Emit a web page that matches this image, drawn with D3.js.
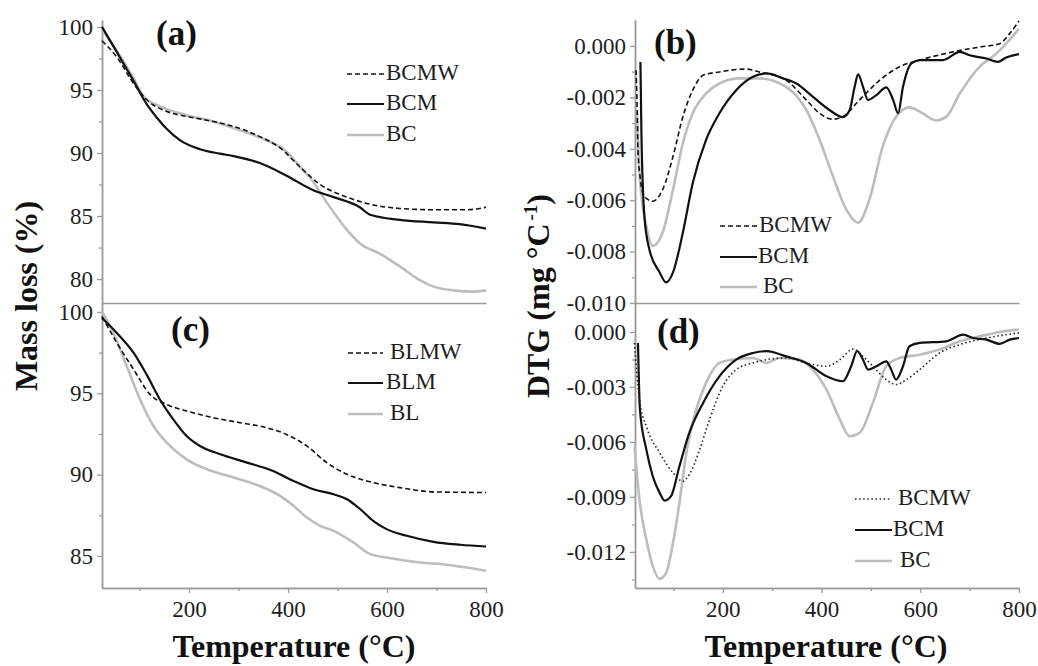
<!DOCTYPE html>
<html>
<head>
<meta charset="utf-8">
<script src="https://cdn.jsdelivr.net/npm/d3@7"></script>
<style>
  html, body { margin: 0; padding: 0; background: #fff; }
  svg { display: block; font-family: "Liberation Serif", "Times New Roman", serif; }
  svg text { font-family: "Liberation Serif", "Times New Roman", serif; }
</style>
</head>
<body>
<svg id="chart" width="1038" height="666"></svg>
<script>
// ---- Axis ticks ----
const tempTicks = [200, 400, 600, 800];
const tempMinorTicks = [100, 300, 500, 700];
const massTicksA = [80, 85, 90, 95, 100];
const massMinorA = [82.5, 87.5, 92.5, 97.5];
const massTicksC = [85, 90, 95, 100];
const massMinorC = [87.5, 92.5, 97.5];
const dtgTicksB = [0, -0.002, -0.004, -0.006, -0.008, -0.010];
const dtgMinorB = [-0.001, -0.003, -0.005, -0.007, -0.009];
const dtgTicksD = [0, -0.003, -0.006, -0.009, -0.012];
const dtgMinorD = [-0.0015, -0.0045, -0.0075, -0.0105, -0.0135];

// ---- Legend labels ----
const legendAB = ["BCMW", "BCM", "BC"];
const legendC = ["BLMW", "BLM", "BL"];

// ---- (a) TGA mass loss, % : [temperature °C, mass %] ----
const massBCMW = [[24,98.9],[54,97.6],[88,95.5],[115,94.2],[155,93.3],[195,92.9],[236,92.6],[290,92.1],[343,91.3],[384,90.4],[424,88.9],[465,87.5],[519,86.5],[559,86.0],[626,85.6],[694,85.5],[761,85.5],[800,85.7]];
const massBCM = [[24,100],[54,98.0],[88,95.7],[114,93.9],[135,92.8],[155,91.9],[182,91.0],[222,90.3],[262,89.95],[290,89.75],[343,89.2],[397,88.2],[451,87.05],[492,86.5],[545,85.7],[566,85.1],[626,84.7],[694,84.5],[747,84.35],[800,84.0]];
const massBC = [[24,99.8],[54,98.1],[88,95.9],[108,94.5],[141,93.7],[195,93.0],[249,92.5],[303,91.8],[357,91.0],[397,90.1],[424,88.9],[451,87.7],[471,86.5],[492,85.3],[519,83.9],[546,82.8],[586,82.0],[626,81.0],[667,79.9],[694,79.4],[734,79.1],[774,79.0],[800,79.1]];

// ---- (c) TGA mass loss, % ----
const massBLMW = [[24,99.73],[54,98.1],[88,96.46],[121,94.93],[155,94.31],[195,93.91],[249,93.5],[303,93.19],[357,92.88],[397,92.47],[438,91.76],[478,90.74],[519,90.02],[559,89.61],[626,89.2],[694,88.94],[800,88.9]];
const massBLM = [[24,99.63],[54,98.71],[88,97.48],[114,96.16],[141,94.62],[168,93.4],[195,92.37],[222,91.76],[263,91.25],[317,90.74],[370,90.22],[411,89.61],[451,89.1],[492,88.79],[519,88.49],[546,87.87],[572,87.16],[599,86.65],[640,86.24],[694,85.87],[748,85.69],[800,85.58]];
const massBL = [[24,100],[47,98.71],[74,96.67],[101,94.62],[128,92.99],[155,91.96],[195,90.94],[236,90.33],[290,89.82],[343,89.3],[384,88.69],[411,88.08],[438,87.36],[465,86.85],[492,86.54],[532,85.83],[566,85.11],[599,84.91],[667,84.6],[721,84.46],[761,84.29],[800,84.09]];

// ---- (b) DTG, mg °C-1 ----
const dtgBCMW_b = [[24,-0.00094],[26,-0.0021],[28,-0.00404],[33,-0.0052],[38,-0.00572],[48,-0.00597],[58,-0.00604],[78,-0.00559],[99,-0.0043],[119,-0.00275],[139,-0.00172],[160,-0.00114],[193,-0.00101],[247,-0.0009],[274,-0.00101],[328,-0.00133],[369,-0.0021],[396,-0.00262],[423,-0.00285],[443,-0.00275],[477,-0.0021],[518,-0.00133],[558,-0.00081],[599,-0.00055],[666,-0.00023],[720,-0.00004],[761,0.00009],[781,0.00048],[800,0.00097]];
const dtgBCM_b = [[33,-0.00062],[35,-0.00339],[41,-0.00662],[51,-0.00791],[72,-0.00881],[85,-0.0092],[99,-0.00881],[119,-0.00726],[139,-0.00533],[166,-0.00365],[193,-0.00262],[227,-0.00172],[261,-0.0012],[288,-0.00107],[322,-0.00126],[349,-0.00146],[382,-0.00197],[416,-0.00249],[443,-0.00277],[457,-0.00249],[467,-0.00159],[474,-0.0011],[484,-0.00159],[494,-0.0021],[511,-0.00191],[531,-0.00161],[545,-0.0021],[555,-0.00262],[565,-0.00159],[582,-0.00068],[599,-0.00055],[646,-0.00055],[680,-0.00023],[700,-0.00036],[734,-0.00049],[757,-0.00062],[774,-0.00045],[800,-0.00032]];
const dtgBC_b = [[26,-0.0025],[32,-0.0052],[45,-0.00701],[58,-0.00778],[78,-0.00726],[99,-0.00559],[119,-0.00378],[139,-0.00262],[166,-0.00185],[193,-0.00146],[234,-0.00126],[274,-0.00126],[328,-0.00159],[369,-0.00249],[396,-0.00365],[423,-0.00507],[450,-0.00636],[474,-0.00688],[497,-0.00597],[524,-0.00391],[551,-0.00275],[578,-0.00239],[605,-0.00262],[632,-0.0029],[653,-0.00275],[680,-0.00185],[720,-0.00081],[754,-0.0003],[774,0.00009],[800,0.00067]];

// ---- (d) DTG, mg °C-1 ----
const dtgBCMW_d = [[21,-0.0006],[31,-0.00369],[45,-0.00515],[72,-0.0066],[99,-0.00769],[119,-0.00815],[132,-0.00778],[153,-0.00642],[173,-0.00478],[200,-0.00296],[227,-0.00205],[261,-0.00169],[288,-0.00151],[328,-0.00142],[369,-0.00169],[410,-0.00187],[437,-0.00151],[464,-0.00093],[484,-0.00133],[504,-0.00187],[531,-0.0026],[551,-0.00287],[572,-0.0026],[599,-0.00205],[639,-0.00115],[680,-0.00069],[734,-0.00033],[800,-0.00005]];
const dtgBCM_d = [[28,-0.0006],[30,-0.00278],[32,-0.00424],[45,-0.00642],[58,-0.00787],[72,-0.00878],[82,-0.0092],[95,-0.00896],[112,-0.00733],[132,-0.00551],[160,-0.00387],[193,-0.00242],[227,-0.00151],[261,-0.00115],[288,-0.00105],[328,-0.00133],[369,-0.00169],[410,-0.00242],[443,-0.00269],[460,-0.00187],[472,-0.00105],[484,-0.00151],[494,-0.00205],[511,-0.00187],[531,-0.0016],[541,-0.00205],[551,-0.0026],[565,-0.00187],[578,-0.00078],[599,-0.0006],[653,-0.00051],[687,-0.00015],[707,-0.00033],[734,-0.00042],[761,-0.00065],[781,-0.00042],[800,-0.00033]];
const dtgBC_d = [[21,-0.00624],[31,-0.00915],[45,-0.01133],[58,-0.01278],[72,-0.01347],[85,-0.01315],[99,-0.01151],[112,-0.00933],[126,-0.0066],[146,-0.00424],[166,-0.00278],[193,-0.00169],[220,-0.00151],[261,-0.00142],[288,-0.00169],[315,-0.00142],[355,-0.00151],[382,-0.00205],[410,-0.00315],[437,-0.00478],[457,-0.00569],[477,-0.00551],[504,-0.00387],[531,-0.00187],[558,-0.00142],[599,-0.00124],[639,-0.00096],[680,-0.00051],[720,-0.00024],[761,0],[800,0.00013]];

// ---- Drawing ----
const FONT = "Liberation Serif, Times New Roman, serif";
const svg = d3.select("#chart");
const AXIS_COLOR = "#9c9c9c";
const TEXT_COLOR = "#1e1e1e";

const styles = {
  dashed: { stroke: "#111", width: 1.6, dash: "5,3" },
  dotted: { stroke: "#222", width: 1.6, dash: "1.5,2.6" },
  black:  { stroke: "#111", width: 2.2, dash: null },
  grey:   { stroke: "#bdbdbd", width: 2.6, dash: null }
};

const fmtInt = d => String(d);
const fmtDtg = d => (Math.abs(d) < 1e-12 ? "0.000" : d.toFixed(3));

function styleAxis(sel) {
  sel.attr("font-family", FONT).attr("font-size", 23);
  sel.select(".domain").attr("stroke", AXIS_COLOR).attr("stroke-width", 1.5);
  sel.selectAll(".tick line").attr("stroke", AXIS_COLOR).attr("stroke-width", 1.3);
  sel.selectAll(".tick text").attr("fill", TEXT_COLOR);
}

function drawPanel(p) {
  const x = d3.scaleLinear().domain(p.xDomain).range([p.left, p.right]);
  const y = d3.scaleLinear().domain(p.yDomain).range([p.bottom, p.top]);
  const g = svg.append("g").attr("font-family", FONT);

  // y axis: minor then major ticks
  g.append("g").attr("transform", `translate(${p.left},0)`)
    .call(d3.axisLeft(y).tickValues(p.yMinor).tickSize(3).tickSizeOuter(0).tickFormat(""))
    .call(styleAxis);
  g.append("g").attr("transform", `translate(${p.left},0)`)
    .call(d3.axisLeft(y).tickValues(p.yTicks).tickSize(5).tickPadding(4).tickSizeOuter(0).tickFormat(p.fmt))
    .call(styleAxis);

  // x axis (ticks only on the lower row)
  if (p.xTicks) {
    g.append("g").attr("transform", `translate(0,${p.bottom})`)
      .call(d3.axisBottom(x).tickValues(tempMinorTicks).tickSize(3).tickSizeOuter(0).tickFormat(""))
      .call(styleAxis);
    g.append("g").attr("transform", `translate(0,${p.bottom})`)
      .call(d3.axisBottom(x).tickValues(p.xTicks).tickSize(5).tickPadding(8).tickSizeOuter(0).tickFormat(fmtInt))
      .call(styleAxis);
  } else {
    g.append("g").attr("transform", `translate(0,${p.bottom})`)
      .call(d3.axisBottom(x).tickValues([]).tickSizeOuter(0))
      .call(styleAxis);
  }

  const line = d3.line()
    .x(d => x(d[0]))
    .y(d => y(d[1]))
    .curve(d3.curveMonotoneX);

  // grey first, then black, then dashed/dotted on top
  [2, 1, 0].forEach(i => {
    const s = p.series[i];
    const st = styles[s.style];
    g.append("path")
      .datum(s.data)
      .attr("d", line)
      .attr("fill", "none")
      .attr("stroke", st.stroke)
      .attr("stroke-width", st.width)
      .attr("stroke-linejoin", "round")
      .attr("stroke-dasharray", st.dash);
  });

  // legend
  p.series.forEach((s, i) => {
    const st = styles[s.style];
    const L = p.legend[i];
    g.append("line")
      .attr("x1", p.legendLine[0]).attr("x2", p.legendLine[1])
      .attr("y1", L.y - 6).attr("y2", L.y - 6)
      .attr("stroke", st.stroke).attr("stroke-width", st.width)
      .attr("stroke-dasharray", st.dash);
    g.append("text")
      .attr("x", L.x).attr("y", L.y)
      .attr("fill", TEXT_COLOR)
      .attr("font-family", FONT)
      .attr("font-size", 23)
      .text(s.name);
  });

  // panel tag
  g.append("text")
    .attr("x", p.tag.x).attr("y", p.tag.y)
    .attr("fill", "#111")
    .attr("font-family", FONT)
    .attr("font-size", 35).attr("font-weight", "bold")
    .text(p.tag.text);
}

drawPanel({
  left: 102, right: 486, top: 20, bottom: 303,
  xDomain: [24, 800], yDomain: [78.1, 100.55],
  yTicks: massTicksA, yMinor: massMinorA, fmt: fmtInt, xTicks: null,
  series: [
    { name: legendAB[0], data: massBCMW, style: "dashed" },
    { name: legendAB[1], data: massBCM, style: "black" },
    { name: legendAB[2], data: massBC, style: "grey" }
  ],
  legendLine: [347, 384],
  legend: [{ x: 386, y: 80 }, { x: 386, y: 110 }, { x: 386, y: 141 }],
  tag: { x: 156, y: 45, text: "(a)" }
});

drawPanel({
  left: 102, right: 486, top: 303, bottom: 588,
  xDomain: [24, 800], yDomain: [83.03, 100.55],
  yTicks: massTicksC, yMinor: massMinorC, fmt: fmtInt, xTicks: tempTicks,
  series: [
    { name: legendC[0], data: massBLMW, style: "dashed" },
    { name: legendC[1], data: massBLM, style: "black" },
    { name: legendC[2], data: massBL, style: "grey" }
  ],
  legendLine: [348, 383],
  legend: [{ x: 390, y: 359 }, { x: 386, y: 389 }, { x: 390, y: 420 }],
  tag: { x: 171, y: 341, text: "(c)" }
});

drawPanel({
  left: 635, right: 1019, top: 20, bottom: 303,
  xDomain: [22, 800], yDomain: [-0.010, 0.00101],
  yTicks: dtgTicksB, yMinor: dtgMinorB, fmt: fmtDtg, xTicks: null,
  series: [
    { name: legendAB[0], data: dtgBCMW_b, style: "dashed" },
    { name: legendAB[1], data: dtgBCM_b, style: "black" },
    { name: legendAB[2], data: dtgBC_b, style: "grey" }
  ],
  legendLine: [720, 757],
  legend: [{ x: 759, y: 232 }, { x: 758, y: 263 }, { x: 763, y: 293 }],
  tag: { x: 654, y: 54, text: "(b)" }
});

drawPanel({
  left: 635, right: 1019, top: 303, bottom: 588,
  xDomain: [22, 800], yDomain: [-0.01397, 0.00158],
  yTicks: dtgTicksD, yMinor: dtgMinorD, fmt: fmtDtg, xTicks: tempTicks,
  series: [
    { name: legendAB[0], data: dtgBCMW_d, style: "dotted" },
    { name: legendAB[1], data: dtgBCM_d, style: "black" },
    { name: legendAB[2], data: dtgBC_d, style: "grey" }
  ],
  legendLine: [855, 892],
  legend: [{ x: 898, y: 505 }, { x: 893, y: 536 }, { x: 900, y: 567 }],
  tag: { x: 657, y: 343, text: "(d)" }
});

// ---- Axis titles ----
const titleStyle = sel => sel.attr("fill", "#111")
  .attr("font-family", FONT).attr("font-size", 32).attr("font-weight", "bold");

svg.append("text")
  .attr("transform", "translate(37,296) rotate(-90)")
  .attr("text-anchor", "middle")
  .call(titleStyle)
  .text("Mass loss (%)");

const dtgTitle = svg.append("text")
  .attr("transform", "translate(549,296) rotate(-90)")
  .attr("text-anchor", "middle")
  .call(titleStyle);
dtgTitle.append("tspan").text("DTG (mg °C");
dtgTitle.append("tspan").attr("dy", -12).attr("dx", 3).attr("font-size", 19).text("-1");
dtgTitle.append("tspan").attr("dy", 12).text(")");

svg.append("text")
  .attr("x", 294).attr("y", 657)
  .attr("text-anchor", "middle")
  .call(titleStyle)
  .text("Temperature (°C)");

svg.append("text")
  .attr("x", 826).attr("y", 657)
  .attr("text-anchor", "middle")
  .call(titleStyle)
  .text("Temperature (°C)");
</script>
</body>
</html>
